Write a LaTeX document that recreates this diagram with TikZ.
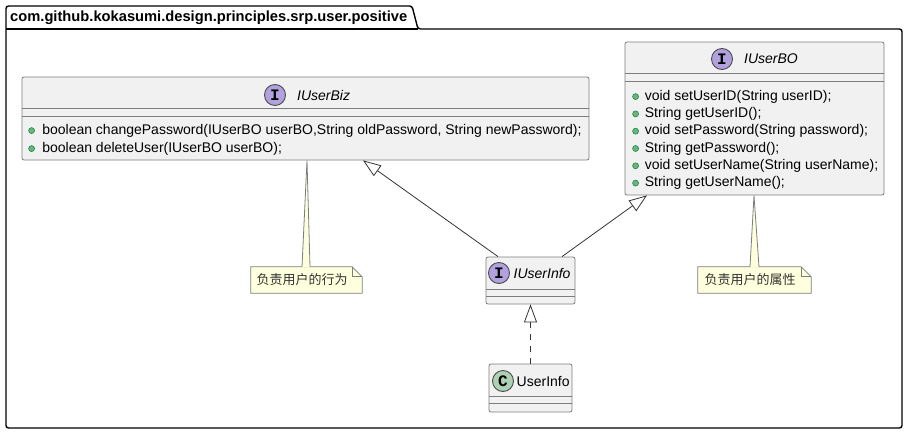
\documentclass[tikz,border=0pt]{standalone}
\usepackage{fontspec}
\setmainfont{Liberation Sans}
\setmonofont{Liberation Mono}
\newfontfamily\cjk{Noto Sans CJK SC}
\usepackage{tikz}
\usetikzlibrary{arrows.meta,positioning,calc,backgrounds}
\definecolor{BoxFill}{RGB}{241,241,241}
\definecolor{BoxLine}{RGB}{125,125,125}
\definecolor{IfaceFill}{RGB}{177,161,222}
\definecolor{ClassFill}{RGB}{173,209,178}
\definecolor{NoteFill}{RGB}{254,255,221}
\definecolor{DotFill}{RGB}{110,180,120}
\definecolor{DotLine}{RGB}{3,128,72}

\begin{document}
\begin{tikzpicture}[x=1pt,y=-1pt,
 classbox/.style={draw=BoxLine, fill=BoxFill, line width=0.8pt, rounded corners=2pt, inner sep=0pt},
 sepline/.style={draw=BoxLine, line width=0.8pt},
 badge/.style={circle, draw=black!70, line width=0.9pt, minimum size=21pt, inner sep=0pt, font=\fontsize{16}{16}\ttfamily\bfseries},
 iface/.style={badge, fill=IfaceFill},
 cls/.style={badge, fill=ClassFill},
 title/.style={font=\fontsize{14}{16}\selectfont\itshape, inner sep=0pt},
 ctitle/.style={font=\fontsize{14}{16}\selectfont, inner sep=0pt},
 member/.style={font=\fontsize{14}{16}\selectfont, inner sep=0pt, anchor=west},
 dot/.style={circle, draw=DotLine, fill=DotFill, line width=0.5pt, minimum size=6pt, inner sep=0pt},
 notebox/.style={inner sep=0pt, minimum width=111pt, minimum height=26pt, font=\fontsize{13}{13}\cjk, text=black!80},
 noteline/.style={draw=BoxLine, fill=NoteFill, line width=0.8pt},
 extends/.style={draw=black!80, line width=0.8pt, -{Triangle[open, length=18pt, width=13pt]}},
 realizes/.style={extends, dash pattern=on 6pt off 6pt}
]
\useasboundingbox (0,0) rectangle (906,434);

\draw[line width=1.4pt, rounded corners=2.5pt] (6,428) -- (6,6) -- (412,6) -- (418,29) -- (902,29) -- (902,428) -- cycle;
\draw[line width=1.4pt] (6,29) -- (418,29);
\node[anchor=west, inner sep=0pt, font=\fontsize{14.7}{16}\selectfont\bfseries] (pkg) at (10,18) {com.github.kokasumi.design.principles.srp.user.positive};

\node[classbox, minimum width=567pt, minimum height=83pt] (biz) at (305.5,118.5) {};
\node[iface] (biz-c) at (275,95) {I};
\node[title, anchor=west] (biz-t) at (297,95) {IUserBiz};
\draw[sepline] ($(biz.north west)+(0,32)$) -- ($(biz.north east)+(0,32)$);
\draw[sepline] ($(biz.north west)+(0,40)$) -- ($(biz.north east)+(0,40)$);
\foreach \i/\txt in {1/{boolean changePassword(IUserBO userBO,String oldPassword, String newPassword);},
                    2/{boolean deleteUser(IUserBO userBO);}} {
  \node[dot] at ($(biz.north west)+(10,36+18*\i)$) {};
  \node[member] (biz-m\i) at ($(biz.north west)+(20.5,36+18*\i)$) {\txt};
}

\node[classbox, minimum width=259pt, minimum height=153pt] (bo) at (754.5,118.5) {};
\node[iface] (bo-c) at (722,59) {I};
\node[title, anchor=west] (bo-t) at (744,59) {IUserBO};
\draw[sepline] ($(bo.north west)+(0,32)$) -- ($(bo.north east)+(0,32)$);
\draw[sepline] ($(bo.north west)+(0,40)$) -- ($(bo.north east)+(0,40)$);
\foreach \i/\txt in {1/{void setUserID(String userID);}, 2/{String getUserID();},
                    3/{void setPassword(String password);}, 4/{String getPassword();},
                    5/{void setUserName(String userName);}, 6/{String getUserName();}} {
  \node[dot] at ($(bo.north west)+(11,37.7+17.3*\i)$) {};
  \node[member] (bo-m\i) at ($(bo.north west)+(20,37.7+17.3*\i)$) {\txt};
}

\node[classbox, minimum width=89pt, minimum height=47pt] (info) at (530.5,280.5) {};
\node[iface] (info-c) at (499,273) {I};
\node[title, anchor=west] (info-t) at (513.5,273) {IUserInfo};
\draw[sepline] ($(info.north west)+(0,33)$) -- ($(info.north east)+(0,33)$);
\draw[sepline] ($(info.north west)+(0,40)$) -- ($(info.north east)+(0,40)$);

\node[classbox, minimum width=83pt, minimum height=48pt] (uinfo) at (530.5,388) {};
\node[cls] (uinfo-c) at (503,381) {C};
\node[ctitle, anchor=west] (uinfo-t) at (516.5,381) {UserInfo};
\draw[sepline] ($(uinfo.north west)+(0,33)$) -- ($(uinfo.north east)+(0,33)$);
\draw[sepline] ($(uinfo.north west)+(0,40)$) -- ($(uinfo.north east)+(0,40)$);

\node[notebox] (bizNote) at (306.5,280) {\hspace*{-9pt}负责用户的行为};
\node[notebox, minimum width=113pt] (boNote) at (754.5,280) {\hspace*{-9pt}负责用户的属性};
\begin{scope}[on background layer]
\foreach \n in {bizNote,boNote} {
  \draw[noteline] (\n.north west) -- ($(\n.north east)+(-10,0)$) -- ($(\n.north east)+(0,10)$)
    -- (\n.south east) -- (\n.south west) -- cycle;
  \draw[sepline] ($(\n.north east)+(-10,0)$) -- ($(\n.north east)+(-10,10)$) -- ($(\n.north east)+(0,10)$);
}
\end{scope}
\fill[NoteFill] ($(biz.south)+(1.5,0.5)$) -- ($(bizNote.north)+(-4.5,0.5)$) -- ($(bizNote.north)+(3.5,0.5)$) -- cycle;
\draw[sepline] ($(bizNote.north)+(-4.5,0)$) -- ($(biz.south)+(1.5,0)$) -- ($(bizNote.north)+(3.5,0)$);
\fill[NoteFill] ($(bo.south)+(-0.5,0.5)$) -- ($(boNote.north)+(-4.5,0.5)$) -- ($(boNote.north)+(4.5,0.5)$) -- cycle;
\draw[sepline] ($(boNote.north)+(-4.5,0)$) -- ($(bo.south)+(-0.5,0)$) -- ($(boNote.north)+(4.5,0)$);

\draw[extends] ($(info.north)+(-32.5,0)$) -- ($(biz.south)+(57.5,0)$);
\draw[extends] ($(info.north)+(31.5,0)$) -- ($(bo.south)+(-107.5,0)$);
\draw[realizes] (uinfo.north) -- (info.south);
\end{tikzpicture}
\end{document}
